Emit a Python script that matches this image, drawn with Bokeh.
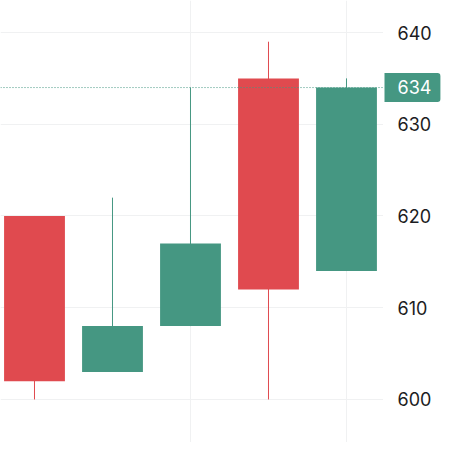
from bokeh.plotting import figure
from bokeh.layouts import row
from bokeh.models import Range1d, FixedTicker, Span, Label, ColumnDataSource
from bokeh.core.properties import value
from bokeh.embed import file_html
from bokeh.resources import INLINE

# Data
idx = [0, 1, 2, 3, 4]
opens = [620, 603, 608, 635, 614]
closes = [602, 608, 617, 612, 634]
highs = [620, 622, 634, 639, 635]
lows = [600, 603, 608, 600, 614]
y_ticks = [600, 610, 620, 630, 640]
y_tick_labels = [str(t) for t in y_ticks]
last_price = closes[-1]

UP = "#459782"
DOWN = "#e04a4f"
GRID = "#f0f1f2"
TEXT = "#1c1c22"

colors = [UP if c >= o else DOWN for o, c in zip(opens, closes)]
tops = [max(o, c) for o, c in zip(opens, closes)]
bottoms = [min(o, c) for o, c in zip(opens, closes)]

src = ColumnDataSource(dict(x=idx, top=tops, bottom=bottoms, high=highs, low=lows, color=colors))

yr = Range1d(595.31, 643.49)

# main price pane
p = figure(width=383, height=442, output_backend="svg", toolbar_location=None,
           x_axis_location=None, y_axis_location=None,
           x_range=Range1d(-0.4359, 4.4744), y_range=yr,
           min_border_left=0, min_border_top=0, min_border_bottom=0, min_border_right=0)
p.outline_line_color = None
p.background_fill_color = "white"
p.border_fill_color = "white"

p.segment(x0="x", x1="x", y0="low", y1="high", color="color", line_width=1, source=src)
p.vbar(x="x", width=0.78, top="top", bottom="bottom", fill_color="color", line_color=None, source=src)

p.ygrid.ticker = FixedTicker(ticks=y_ticks)
p.ygrid.grid_line_color = GRID
p.xgrid.ticker = FixedTicker(ticks=[2, 4])
p.xgrid.grid_line_color = GRID

p.add_layout(Span(location=last_price, dimension="width", line_color=UP, line_dash="1 2", line_width=1))

# price scale pane (shares the y scale)
ps = figure(width=69, height=442, output_backend="svg", toolbar_location=None,
            x_axis_location=None, y_axis_location=None,
            x_range=Range1d(0, 69), y_range=yr,
            min_border_left=0, min_border_top=0, min_border_bottom=0, min_border_right=0)
ps.outline_line_color = None
ps.background_fill_color = "white"
ps.border_fill_color = "white"
ps.xgrid.visible = False
ps.ygrid.visible = False

ps.text(x=14, y=y_ticks, text=y_tick_labels, text_font=value("Inter"), text_font_size="18px",
        text_color=TEXT, text_baseline="middle", text_align="left")

ps.add_layout(Label(x=1, y=last_price, text=str(last_price),
                    text_color="white", text_font="Inter", text_font_size="18px",
                    text_baseline="middle", text_align="left",
                    background_fill_color=UP, padding=(13, 9, 7, 8),
                    border_radius=(0, 3, 3, 0)))

layout = row(p, ps, spacing=0)
open("out.html", "w").write(file_html(layout, INLINE))
